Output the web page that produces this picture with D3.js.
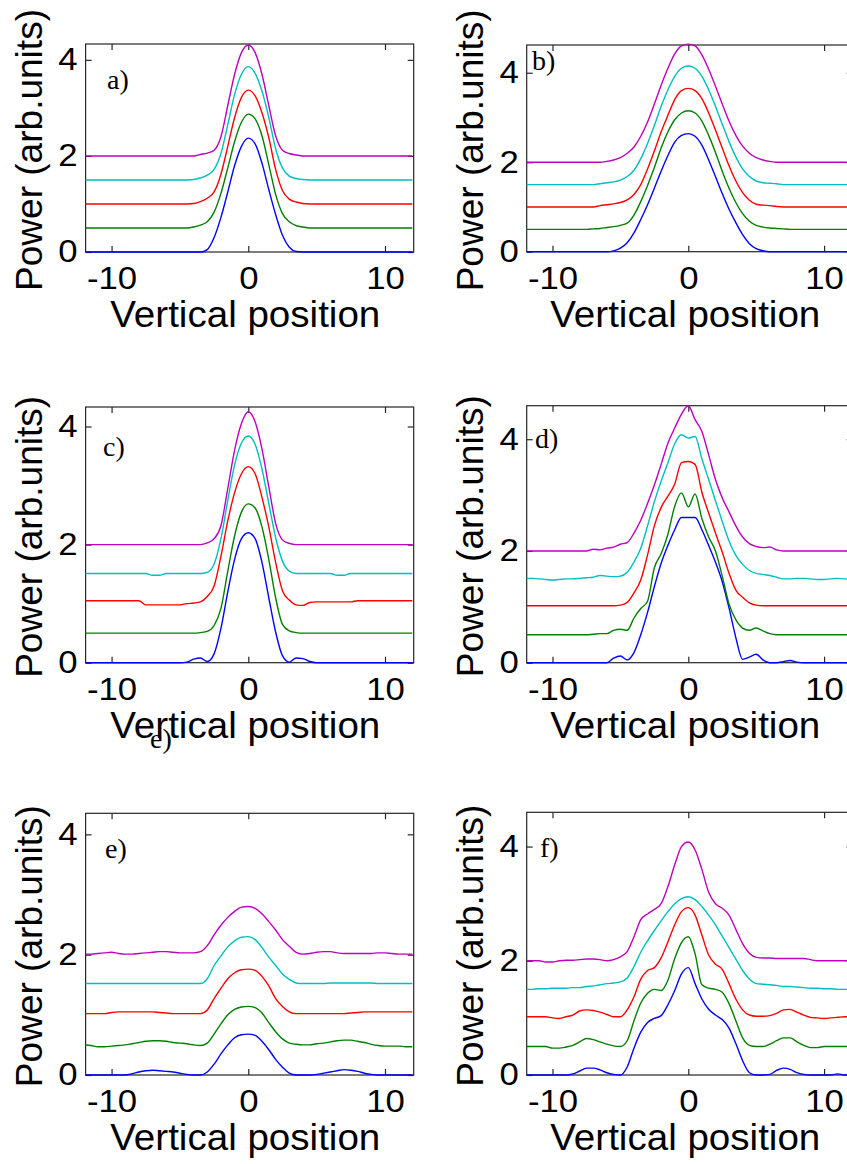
<!DOCTYPE html>
<html>
<head>
<meta charset="utf-8">
<script src="https://cdn.jsdelivr.net/npm/d3@7"></script>
<style>
  body { margin: 0; background: #fff; }
  svg { display: block; }
</style>
</head>
<body>
<svg id="fig" width="847" height="1164"></svg>
<script>
// sample positions shared by every profile
const xGrid = [
  -12, -11.5, -11, -10.5, -10, -9.5, -9, -8.5,
  -8, -7.5, -7, -6.5, -6, -5.5, -5, -4.5,
  -4, -3.5, -3, -2.5, -2, -1.5, -1, -0.5,
  0,
  0.5, 1, 1.5, 2, 2.5, 3, 3.5, 4,
  4.5, 5, 5.5, 6, 6.5, 7, 7.5, 8,
  8.5, 9, 9.5, 10, 10.5, 11, 11.5, 12
];

const offsets = [0, 0.5, 1, 1.5, 2];
const seriesColors = ['#0000ff', '#008000', '#ff0000', '#00bfbf', '#bf00bf'];
const xTicks = [-10, 0, 10];
const yTicks = [0, 2, 4];
const panelLetters = ['a)', 'b)', 'c)', 'd)', 'e)', 'f)'];
const xLabel = 'Vertical position';
const yLabel = 'Power (arb.units)';

// panel a
const blueA = [
  0, 0, 0, 0, 0, 0, 0, 0,
  0, 0, 0, 0, 0, 0, 0, 0,
  0, 0, 0.05, 0.3, 0.72, 1.25, 1.8, 2.2,
  2.37,
  2.25, 1.85, 1.3, 0.78, 0.35, 0.1, 0.01, 0,
  0, 0, 0, 0, 0, 0, 0, 0,
  0, 0, 0, 0, 0, 0, 0, 0
];
const greenA = [
  0, 0, 0, 0, 0, 0, 0, 0,
  0, 0, 0, 0, 0, 0, 0, 0,
  0.02, 0.06, 0.13, 0.33, 0.72, 1.25, 1.8, 2.2,
  2.37,
  2.27, 1.92, 1.32, 0.7, 0.3, 0.13, 0.05, 0.02,
  0, 0, 0, 0, 0, 0, 0, 0,
  0, 0, 0, 0, 0, 0, 0, 0
];
const redA = [
  0, 0, 0, 0, 0, 0, 0, 0,
  0, 0, 0, 0, 0, 0, 0, 0,
  0.01, 0.05, 0.12, 0.25, 0.62, 1.2, 1.8, 2.22,
  2.37,
  2.25, 1.9, 1.38, 0.72, 0.28, 0.1, 0.04, 0.01,
  0, 0, 0, 0, 0, 0, 0, 0,
  0, 0, 0, 0, 0, 0, 0, 0
];
const cyanA = [
  0, 0, 0, 0, 0, 0, 0, 0,
  0, 0, 0, 0, 0, 0, 0, 0,
  0.01, 0.04, 0.1, 0.22, 0.55, 1.15, 1.78, 2.2,
  2.36,
  2.22, 1.85, 1.3, 0.65, 0.25, 0.08, 0.03, 0.01,
  0, 0, 0, 0, 0, 0, 0, 0,
  0, 0, 0, 0, 0, 0, 0, 0
];
const magentaA = [
  0, 0, 0, 0, 0, 0, 0, 0,
  0, 0, 0, 0, 0, 0, 0, 0,
  0, 0.03, 0.06, 0.12, 0.4, 1.05, 1.7, 2.15,
  2.31,
  2.15, 1.7, 1.05, 0.42, 0.12, 0.05, 0.02, 0,
  0, 0, 0, 0, 0, 0, 0, 0,
  0, 0, 0, 0, 0, 0, 0, 0
];

// panel b
const blueB = [
  0, 0, 0, 0, 0, 0, 0, 0,
  0, 0, 0, 0, 0, 0.02, 0.08, 0.2,
  0.42, 0.72, 1.05, 1.42, 1.8, 2.15, 2.45, 2.6,
  2.64,
  2.58, 2.38, 2.05, 1.68, 1.3, 0.95, 0.65, 0.38,
  0.18, 0.07, 0.02, 0, 0, 0, 0, 0,
  0, 0, 0, 0, 0, 0, 0, 0
];
const greenB = [
  0, 0, 0, 0, 0, 0, 0, 0,
  0, 0, 0.01, 0.02, 0.04, 0.06, 0.09, 0.14,
  0.32, 0.62, 0.98, 1.38, 1.82, 2.18, 2.45, 2.6,
  2.65,
  2.6, 2.42, 2.1, 1.72, 1.3, 0.92, 0.6, 0.35,
  0.18, 0.09, 0.05, 0.03, 0.02, 0.01, 0, 0,
  0, 0, 0, 0, 0, 0, 0, 0
];
const redB = [
  0, 0, 0, 0, 0, 0, 0, 0,
  0, 0, 0, 0.03, 0.05, 0.07, 0.1, 0.16,
  0.28, 0.5, 0.85, 1.25, 1.68, 2.05, 2.4, 2.6,
  2.65,
  2.6, 2.42, 2.1, 1.72, 1.32, 0.92, 0.58, 0.32,
  0.15, 0.06, 0.04, 0.03, 0.01, 0, 0, 0,
  0, 0, 0, 0, 0, 0, 0, 0
];
const cyanB = [
  0, 0, 0, 0, 0, 0, 0, 0,
  0, 0, 0, 0.02, 0.04, 0.06, 0.1, 0.18,
  0.32, 0.58, 0.92, 1.32, 1.75, 2.12, 2.42, 2.6,
  2.65,
  2.6, 2.42, 2.12, 1.75, 1.35, 0.96, 0.62, 0.35,
  0.18, 0.08, 0.04, 0.03, 0.02, 0, 0, 0,
  0, 0, 0, 0, 0, 0, 0, 0
];
const magentaB = [
  0, 0, 0, 0, 0, 0, 0, 0,
  0, 0, 0, 0, 0.02, 0.05, 0.1, 0.2,
  0.34, 0.58, 0.9, 1.3, 1.72, 2.1, 2.42, 2.6,
  2.64,
  2.6, 2.4, 2.08, 1.7, 1.3, 0.92, 0.6, 0.36,
  0.2, 0.1, 0.05, 0.02, 0, 0, 0, 0,
  0, 0, 0, 0, 0, 0, 0, 0
];

// panel c
const blueC = [
  0, 0, 0, 0, 0, 0, 0, 0,
  0, 0, 0, 0, 0, 0, 0, 0.01,
  0.06, 0.08, 0.02, 0.15, 0.58, 1.2, 1.75, 2.1,
  2.2,
  2.1, 1.7, 1.1, 0.52, 0.12, 0.01, 0.08, 0.07,
  0.02, 0, 0, 0, 0, 0, 0, 0,
  0, 0, 0, 0, 0, 0, 0, 0
];
const greenC = [
  0, 0, 0, 0, 0, 0, 0, 0,
  0, 0, 0, 0, 0, 0, 0, 0,
  0, 0.01, 0.03, 0.13, 0.42, 1.05, 1.65, 2.05,
  2.19,
  2.12, 1.8, 1.25, 0.6, 0.15, 0.04, 0.01, 0,
  0, 0, 0, 0, 0, 0, 0, 0,
  0, 0, 0, 0, 0, 0, 0, 0
];
const redC = [
  0.05, 0.05, 0.05, 0.05, 0.05, 0.05, 0.05, 0.05,
  0.05, -0.02, -0.02, -0.02, -0.02, -0.02, -0.02, 0,
  0.01, 0.03, 0.12, 0.3, 0.8, 1.4, 1.88, 2.2,
  2.32,
  2.2, 1.8, 1.3, 0.7, 0.22, 0.06, -0.02, -0.03,
  0.02, 0.03, 0.03, 0.03, 0.03, 0.03, 0.03, 0.05,
  0.05, 0.05, 0.05, 0.05, 0.05, 0.05, 0.05, 0.05
];
const cyanC = [
  0.01, 0.01, 0.01, 0.01, 0.01, 0.01, 0.01, 0.01,
  0.01, 0.01, -0.02, -0.02, 0.01, 0.01, 0.01, 0.01,
  0.01, 0.01, 0.03, 0.17, 0.6, 1.25, 1.85, 2.22,
  2.34,
  2.2, 1.78, 1.2, 0.62, 0.22, 0.05, 0.01, 0.01,
  0.01, 0.01, 0.01, 0.01, -0.02, -0.02, 0.01, 0.01,
  0.01, 0.01, 0.01, 0.01, 0.01, 0.01, 0.01, 0.01
];
const magentaC = [
  0, 0, 0, 0, 0, 0, 0, 0,
  0, 0, 0, 0, 0, 0, 0, 0,
  0, 0, 0.03, 0.1, 0.32, 0.95, 1.6, 2.05,
  2.25,
  2.08, 1.62, 0.98, 0.36, 0.08, 0.02, 0, 0,
  0, 0, 0, 0, 0, 0, 0, 0,
  0, 0, 0, 0, 0, 0, 0, 0
];

// panel d
const blueD = [
  0, 0, 0, 0, 0, 0, 0, 0,
  0, 0, 0, 0, 0, 0.08, 0.12, 0.05,
  0.18, 0.5, 0.9, 1.36, 1.78, 2.1, 2.38, 2.6,
  2.6,
  2.6, 2.38, 2.1, 1.8, 1.45, 0.98, 0.45, 0.06,
  0.1, 0.15, 0.05, 0, 0, 0.02, 0.04, 0.01,
  0, 0, 0, 0, 0, 0, 0, 0
];
const greenD = [
  0, 0, 0, 0, 0, 0, 0, 0,
  0, 0, 0.01, 0.02, 0.02, 0.08, 0.1, 0.08,
  0.3, 0.47, 0.6, 1.2, 1.45, 1.8, 2.3, 2.54,
  2.29,
  2.52, 2.08, 1.75, 1.5, 1.05, 0.55, 0.27, 0.12,
  0.08, 0.12, 0.07, 0.02, 0, 0, 0, 0,
  0, 0, 0, 0, 0, 0, 0, 0
];
const redD = [
  0.02, 0.02, 0.02, 0.02, 0.02, 0.02, 0.02, 0.02,
  0.02, 0.02, 0.02, 0.02, 0.02, 0.02, 0.03, 0.08,
  0.25, 0.48, 0.93, 1.45, 1.78, 1.98, 2.2, 2.58,
  2.6,
  2.55, 2.05, 1.68, 1.32, 0.98, 0.6, 0.3, 0.17,
  0.07, 0.03, 0.02, 0.02, 0.02, 0.02, 0.02, 0.02,
  0.02, 0.02, 0.02, 0.02, 0.02, 0.02, 0.02, 0.02
];
const cyanD = [
  0.01, 0.01, 0, -0.01, -0.02, -0.01, 0, 0,
  0.01, 0.02, 0.03, 0.06, 0.05, 0.04, 0.05, 0.12,
  0.3, 0.55, 0.95, 1.38, 1.75, 2.08, 2.42, 2.58,
  2.52,
  2.55, 2.15, 1.78, 1.4, 1.03, 0.68, 0.42, 0.26,
  0.15, 0.1, 0.08, 0.06, 0.03, 0, 0, 0.01,
  0.01, 0, -0.01, -0.01, 0, 0.01, 0, 0
];
const magentaD = [
  0, 0, 0, 0, 0, 0, 0, 0,
  0, 0, 0.03, 0.02, 0.05, 0.07, 0.12, 0.15,
  0.32, 0.55, 0.85, 1.18, 1.55, 1.93, 2.2, 2.45,
  2.6,
  2.35, 2.14, 1.72, 1.28, 0.95, 0.7, 0.45, 0.25,
  0.13, 0.08, 0.06, 0.07, 0.02, 0, 0, 0,
  0, 0, 0, 0, 0, 0, 0, 0
];

// panel e
const blueE = [
  0, 0, 0, 0, 0, 0, 0, 0.02,
  0.05, 0.07, 0.08, 0.07, 0.06, 0.05, 0.03, 0.01,
  0, 0, 0.05, 0.18, 0.35, 0.5, 0.62, 0.67,
  0.68,
  0.66, 0.56, 0.42, 0.26, 0.13, 0.03, 0, 0,
  0, 0.01, 0.03, 0.05, 0.07, 0.09, 0.08, 0.06,
  0.03, 0.01, 0, 0, 0, 0, 0, 0
];
const greenE = [
  0, -0.01, -0.03, -0.03, -0.02, -0.01, 0, 0.02,
  0.04, 0.06, 0.07, 0.07, 0.06, 0.04, 0.03, 0.02,
  0, -0.01, 0.03, 0.18, 0.35, 0.5, 0.59, 0.63,
  0.64,
  0.62, 0.53, 0.37, 0.22, 0.1, 0.03, 0.01, 0,
  0, 0.02, 0.03, 0.05, 0.07, 0.08, 0.08, 0.06,
  0.04, 0.01, -0.01, -0.02, -0.02, -0.02, -0.03, -0.03
];
const redE = [
  0.02, 0.02, 0.02, 0.02, 0.04, 0.05, 0.05, 0.05,
  0.05, 0.05, 0.05, 0.04, 0.03, 0.02, 0.02, 0.02,
  0.02, 0.02, 0.08, 0.27, 0.44, 0.6, 0.7, 0.75,
  0.76,
  0.74, 0.64, 0.48, 0.27, 0.14, 0.05, 0.02, 0.02,
  0.02, 0.02, 0.02, 0.02, 0.02, 0.02, 0.03, 0.04,
  0.05, 0.05, 0.05, 0.05, 0.05, 0.05, 0.05, 0.05
];
const cyanE = [
  0.02, 0.02, 0.02, 0.02, 0.02, 0.02, 0.02, 0.02,
  0.02, 0.02, 0.02, 0.02, 0.02, 0.02, 0.02, 0.02,
  0.02, 0.02, 0.1, 0.32, 0.48, 0.63, 0.73, 0.79,
  0.8,
  0.75, 0.62, 0.46, 0.32, 0.18, 0.09, 0.03, 0.02,
  0.02, 0.02, 0.02, 0.03, 0.03, 0.03, 0.03, 0.03,
  0.03, 0.03, 0.02, 0.02, 0.02, 0.02, 0.02, 0.02
];
const magentaE = [
  0.01, 0.01, 0.02, 0.03, 0.04, 0.02, 0.01, 0.01,
  0.02, 0.03, 0.04, 0.05, 0.05, 0.04, 0.03, 0.03,
  0.03, 0.05, 0.15, 0.33, 0.49, 0.62, 0.72, 0.79,
  0.8,
  0.77, 0.68, 0.55, 0.41, 0.25, 0.14, 0.04, 0.01,
  0.02, 0.04, 0.05, 0.05, 0.03, 0.02, 0.02, 0.02,
  0.02, 0.02, 0.03, 0.03, 0.02, 0.01, 0.01, 0.01
];

// panel f
const blueF = [
  0, 0, 0, 0, 0, 0, 0, 0.02,
  0.07, 0.12, 0.12, 0.09, 0.04, 0.01, 0, 0.14,
  0.47, 0.75, 0.92, 0.99, 1.04, 1.23, 1.48, 1.77,
  1.88,
  1.6, 1.33, 1.15, 1.05, 0.97, 0.82, 0.55, 0.25,
  0.04, 0, 0, 0.01, 0.08, 0.12, 0.1, 0.04,
  0.01, 0, 0, 0, 0, 0.02, 0, 0
];
const greenF = [
  0, 0, 0, 0, -0.03, -0.03, -0.01, 0.02,
  0.08, 0.14, 0.12, 0.08, 0.04, 0.01, 0, 0.1,
  0.45, 0.76, 0.93, 1.0, 0.98, 1.16, 1.54, 1.82,
  1.92,
  1.62, 1.08, 1.02, 1.0, 0.95, 0.75, 0.45, 0.15,
  0.02, 0, 0, 0.04, 0.1, 0.15, 0.15, 0.08,
  0.02, -0.02, -0.02, 0, 0, 0, 0, 0
];
const redF = [
  0.02, 0.02, 0.02, 0.02, 0, -0.01, 0.02, 0.05,
  0.12, 0.14, 0.13, 0.1, 0.06, 0.02, 0.02, 0.14,
  0.37, 0.68, 0.83, 0.88, 1.05, 1.33, 1.63, 1.86,
  1.93,
  1.8, 1.45, 1.1, 0.94, 0.85, 0.6, 0.33, 0.14,
  0.05, 0.03, 0.03, 0.04, 0.08, 0.14, 0.15, 0.1,
  0.05, 0.01, 0, -0.01, 0, 0.01, 0.02, 0.02
];
const cyanF = [
  0, 0, 0.01, 0.01, 0.02, 0.02, 0.02, 0.03,
  0.03, 0.05, 0.06, 0.08, 0.1, 0.11, 0.13, 0.2,
  0.4, 0.65, 0.85, 1.03, 1.2, 1.36, 1.5, 1.59,
  1.62,
  1.57, 1.45, 1.3, 1.13, 0.93, 0.73, 0.53, 0.33,
  0.18, 0.1, 0.09, 0.08, 0.07, 0.05, 0.05, 0.04,
  0.03, 0.02, 0.02, 0.01, 0.01, 0, 0, 0
];
const magentaF = [
  0, 0, 0, -0.02, -0.02, 0, 0.01, 0.01,
  0.02, 0.03, 0.03, 0.02, 0, 0.02, 0.07, 0.16,
  0.42, 0.72, 0.82, 0.9, 1.0, 1.3, 1.68, 2.0,
  2.08,
  1.94, 1.6, 1.2, 1.0, 0.92, 0.8, 0.55, 0.3,
  0.13, 0.06, 0.05, 0.05, 0.04, 0.04, 0.04, 0.04,
  0.04, 0.02, 0, 0, 0, 0, 0, 0
];

const panelSeries = [
  [blueA, greenA, redA, cyanA, magentaA],
  [blueB, greenB, redB, cyanB, magentaB],
  [blueC, greenC, redC, cyanC, magentaC],
  [blueD, greenD, redD, cyanD, magentaD],
  [blueE, greenE, redE, cyanE, magentaE],
  [blueF, greenF, redF, cyanF, magentaF]
];

// axis limits per panel (y is tight to the data)
const xDomain = [-11.9, 12.1];
const yMaxes = [4.33, 4.62, 4.33, 4.6, 4.35, 4.6];

// page layout
const colRanges = [[85.6, 413.7], [526.7, 852.6]];
const layout = [
  { col: 0, top: 44, bottom: 252, letter: [107, 89] },
  { col: 1, top: 45, bottom: 251.7, letter: [532, 70] },
  { col: 0, top: 407, bottom: 662.7, letter: [103, 456] },
  { col: 1, top: 405.7, bottom: 662.7, letter: [535, 448] },
  { col: 0, top: 813.3, bottom: 1075, letter: [105, 858] },
  { col: 1, top: 812.3, bottom: 1075, letter: [540, 857] }
];

const sans = '"Liberation Sans", Arial, Helvetica, sans-serif';
const serif = '"Liberation Serif", "Times New Roman", serif';
const axisColor = '#262626';

const svg = d3.select('#fig');

// tick labels in the source are a little wider than the font
const widen = sel => sel.each(function () {
  const w = this.getComputedTextLength();
  if (w > 0) {
    d3.select(this).attr('textLength', w * 1.12).attr('lengthAdjust', 'spacingAndGlyphs');
  }
});

layout.forEach((p, k) => {
  const x = d3.scaleLinear().domain(xDomain).range(colRanges[p.col]);
  const y = d3.scaleLinear().domain([0, yMaxes[k]]).range([p.bottom, p.top]);
  const [x1, x2] = x.range();
  const g = svg.append('g');

  g.append('clipPath').attr('id', 'clip' + k)
    .append('rect')
    .attr('x', x1)
    .attr('y', p.top - 6)
    .attr('width', x2 - x1)
    .attr('height', p.bottom - p.top + 12);

  // box
  g.append('rect')
    .attr('x', x1).attr('y', p.top)
    .attr('width', x2 - x1).attr('height', p.bottom - p.top)
    .attr('fill', 'none')
    .attr('stroke', axisColor)
    .attr('stroke-width', 1.2);

  const styleAxis = a => {
    a.select('.domain').remove();
    a.attr('font-family', sans).attr('font-size', 31).attr('color', axisColor);
    a.selectAll('text').attr('fill', '#000').call(widen);
    a.selectAll('line').attr('stroke-width', 1.2);
  };

  g.append('g')
    .attr('transform', `translate(0,${p.bottom})`)
    .call(d3.axisBottom(x).tickValues(xTicks).tickSizeInner(-6).tickSizeOuter(0)
      .tickPadding(15).tickFormat(d => String(d)))
    .call(styleAxis);

  g.append('g')
    .attr('transform', `translate(0,${p.top})`)
    .call(d3.axisTop(x).tickValues(xTicks).tickSizeInner(-6).tickSizeOuter(0).tickFormat(''))
    .call(styleAxis);

  g.append('g')
    .attr('transform', `translate(${x1},0)`)
    .call(d3.axisLeft(y).tickValues(yTicks).tickSizeInner(-6).tickSizeOuter(0)
      .tickPadding(8).tickFormat(d => String(d)))
    .call(styleAxis);

  g.append('g')
    .attr('transform', `translate(${x2},0)`)
    .call(d3.axisRight(y).tickValues(yTicks).tickSizeInner(-6).tickSizeOuter(0).tickFormat(''))
    .call(styleAxis);

  // profiles, stacked with offsets
  const line = d3.line()
    .x((d, i) => x(xGrid[i]))
    .y(d => y(d))
    .curve(d3.curveMonotoneX);

  g.append('g')
    .attr('clip-path', `url(#clip${k})`)
    .selectAll('path')
    .data(panelSeries[k].map((vals, s) => vals.map(v => v + offsets[s])))
    .join('path')
    .attr('d', line)
    .attr('fill', 'none')
    .attr('stroke', (_, s) => seriesColors[s])
    .attr('stroke-width', 1.4)
    .attr('stroke-linejoin', 'round');

  // labels
  g.append('text')
    .attr('x', x(0) - 3)
    .attr('y', p.bottom + 75)
    .attr('text-anchor', 'middle')
    .attr('font-family', sans)
    .attr('font-size', 36)
    .attr('textLength', 270)
    .attr('lengthAdjust', 'spacingAndGlyphs')
    .text(xLabel);

  g.append('text')
    .attr('transform', `translate(${x1 - 44},${(p.top + p.bottom) / 2 + 2}) rotate(-90)`)
    .attr('text-anchor', 'middle')
    .attr('font-family', sans)
    .attr('font-size', 36)
    .attr('textLength', 282)
    .attr('lengthAdjust', 'spacingAndGlyphs')
    .text(yLabel);

  g.append('text')
    .attr('x', p.letter[0])
    .attr('y', p.letter[1])
    .attr('font-family', serif)
    .attr('font-size', 28)
    .text(panelLetters[k]);
});

// stray copy of the "e)" label that sits on panel c's axis title in the source
svg.append('text')
  .attr('x', 150)
  .attr('y', 748)
  .attr('font-family', serif)
  .attr('font-size', 28)
  .text(panelLetters[4]);
</script>
</body>
</html>
